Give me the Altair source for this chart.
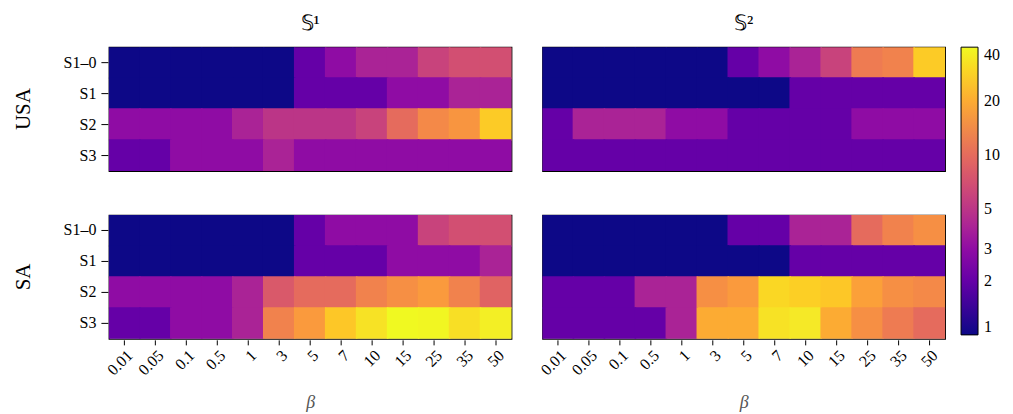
import altair as alt
import pandas as pd

betas = ["0.01", "0.05", "0.1", "0.5", "1", "3", "5", "7", "10", "15", "25", "35", "50"]
settings = ["S1–0", "S1", "S2", "S3"]
regions = ["USA", "SA"]
spaces = ["𝕊¹", "𝕊²"]

usa_s1 = [
    [1, 1, 1, 1, 1, 1, 2, 3, 4, 4, 6, 7, 7],
    [1, 1, 1, 1, 1, 1, 2, 2, 2, 3, 3, 4, 4],
    [3, 3, 3, 3, 4, 5, 5, 5, 6, 10, 14, 16, 27],
    [2, 2, 3, 3, 3, 4, 3, 3, 3, 3, 3, 3, 3],
]
usa_s2 = [
    [1, 1, 1, 1, 1, 1, 2, 3, 4, 6, 12, 13, 27],
    [1, 1, 1, 1, 1, 1, 1, 1, 2, 2, 2, 2, 2],
    [2, 4, 4, 4, 3, 3, 2, 2, 2, 2, 3, 3, 3],
    [2, 2, 2, 2, 2, 2, 2, 2, 2, 2, 2, 2, 2],
]
sa_s1 = [
    [1, 1, 1, 1, 1, 1, 2, 3, 3, 3, 6, 7, 7],
    [1, 1, 1, 1, 1, 1, 2, 2, 2, 3, 3, 3, 4],
    [3, 3, 3, 3, 4, 8, 10, 10, 13, 15, 17, 13, 9],
    [2, 2, 3, 3, 4, 13, 17, 26, 33, 40, 39, 32, 37],
]
sa_s2 = [
    [1, 1, 1, 1, 1, 1, 2, 2, 4, 4, 10, 13, 15],
    [1, 1, 1, 1, 1, 1, 1, 1, 2, 2, 2, 2, 2],
    [2, 2, 2, 4, 4, 15, 17, 30, 28, 26, 18, 15, 14],
    [2, 2, 2, 2, 4, 20, 20, 33, 35, 20, 15, 12, 10],
]

panels = {("USA", "𝕊¹"): usa_s1, ("USA", "𝕊²"): usa_s2,
          ("SA", "𝕊¹"): sa_s1, ("SA", "𝕊²"): sa_s2}

rows = []
for (reg, sp), grid in panels.items():
    for i, s in enumerate(settings):
        for j, b in enumerate(betas):
            rows.append({"region": reg, "space": sp, "setting": s, "beta": b,
                         "value": grid[i][j]})
df = pd.DataFrame(rows)

FONT = "Liberation Serif"

base = alt.Chart(df).mark_rect(
    width=alt.RelativeBandSize(1.05), height=alt.RelativeBandSize(1.05), clip=True
).encode(
    x=alt.X("beta:N", sort=betas, title="β",
            scale=alt.Scale(paddingInner=0, paddingOuter=0, round=True),
            axis=alt.Axis(labelAngle=-45, labelAlign="right", labelBaseline="top",
                          labelFontSize=16, labelFont=FONT, tickSize=5, tickColor="black",
                          domain=False, titleFont=FONT, titleFontSize=18,
                          titleFontStyle="italic", titleFontWeight="normal",
                          titleColor="#555555", labelColor="black", titlePadding=16)),
    y=alt.Y("setting:N", sort=settings, title=None,
            scale=alt.Scale(paddingInner=0, paddingOuter=0, round=True),
            axis=alt.Axis(labelFontSize=16, labelFont=FONT, tickSize=7, tickColor="black",
                          domain=False, labelColor="black", labelPadding=5)),
    color=alt.Color("value:Q",
                    scale=alt.Scale(type="log", domain=[1, 40], scheme="plasma"),
                    legend=alt.Legend(title=None, type="gradient",
                                      values=[1, 2, 3, 5, 10, 20, 40],
                                      gradientLength=288, gradientThickness=17,
                                      labelFontSize=16, labelFont=FONT, labelColor="black",
                                      labelBaseline="middle", labelOverlap=False,
                                      gradientStrokeColor="black", gradientStrokeWidth=1,
                                      offset=15, labelOffset=6)),
).properties(width=403, height=124)

chart = base.facet(
    row=alt.Row("region:N", sort=regions, title=None,
                header=alt.Header(labelFontSize=21, labelFont=FONT, labelColor="black",
                                  labelOrient="left", labelAngle=-90, labelPadding=18)),
    column=alt.Column("space:N", sort=spaces, title=None,
                      header=alt.Header(labelFontSize=21, labelFont=FONT, labelColor="black",
                                        labelPadding=12)),
    spacing={"row": 42, "column": 29},
).configure_view(stroke="black", strokeWidth=1.2).configure_axis(grid=False)

chart.save("out.html", embed_options={"renderer": "svg", "actions": False})
